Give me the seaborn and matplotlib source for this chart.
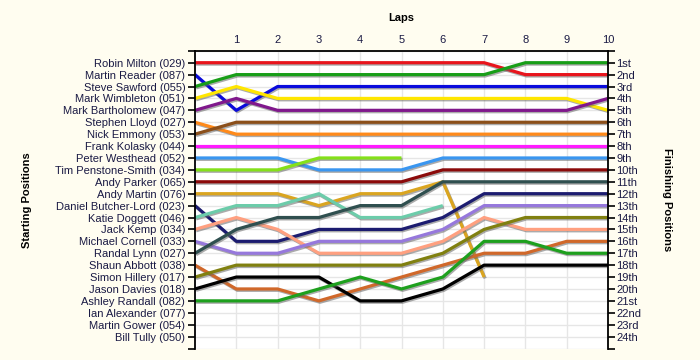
import pandas as pd
import matplotlib.pyplot as plt
import matplotlib.patheffects as pe
import seaborn as sns
import numpy as np

# lap chart data: position of each driver at the end of each lap (lap 0 = grid)
laps = list(range(11))
drivers = ["Robin Milton (029)", "Martin Reader (087)", "Steve Sawford (055)", "Mark Wimbleton (051)",
           "Mark Bartholomew (047)", "Stephen Lloyd (027)", "Nick Emmony (053)", "Frank Kolasky (044)",
           "Peter Westhead (052)", "Tim Penstone-Smith (034)", "Andy Parker (065)", "Andy Martin (076)",
           "Daniel Butcher-Lord (023)", "Katie Doggett (046)", "Jack Kemp (034)", "Michael Cornell (033)",
           "Randal Lynn (027)", "Shaun Abbott (038)", "Simon Hillery (017)", "Jason Davies (018)",
           "Ashley Randall (082)", "Ian Alexander (077)", "Martin Gower (054)", "Bill Tully (050)"]
finish_labels = ["1st", "2nd", "3rd", "4th", "5th", "6th", "7th", "8th", "9th", "10th", "11th", "12th",
                 "13th", "14th", "15th", "16th", "17th", "18th", "19th", "20th", "21st", "22nd", "23rd", "24th"]

milton = [1, 1, 1, 1, 1, 1, 1, 1, 2, 2, 2]
reader = [2, 5, 3, 3, 3, 3, 3, 3, 3, 3, 3]
sawford = [3, 2, 2, 2, 2, 2, 2, 2, 1, 1, 1]
wimbleton = [4, 3, 4, 4, 4, 4, 4, 4, 4, 4, 5]
bartholomew = [5, 4, 5, 5, 5, 5, 5, 5, 5, 5, 4]
lloyd = [6, 7, 7, 7, 7, 7, 7, 7, 7, 7, 7]
emmony = [7, 6, 6, 6, 6, 6, 6, 6, 6, 6, 6]
kolasky = [8, 8, 8, 8, 8, 8, 8, 8, 8, 8, 8]
westhead = [9, 9, 9, 10, 10, 10, 9, 9, 9, 9, 9]
penstone = [10, 10, 10, 9, 9, 9, None, None, None, None, None]
parker = [11, 11, 11, 11, 11, 11, 10, 10, 10, 10, 10]
martin = [12, 12, 12, 13, 12, 12, 11, 19, None, None, None]
butcher = [13, 16, 16, 15, 15, 15, 14, 12, 12, 12, 12]
doggett = [14, 13, 13, 12, 14, 14, 13, None, None, None, None]
kemp = [15, 14, 15, 17, 17, 17, 16, 14, 15, 15, 15]
cornell = [16, 17, 17, 16, 16, 16, 15, 13, 13, 13, 13]
lynn = [17, 15, 14, 14, 13, 13, 11, 11, 11, 11, 11]
abbott = [18, 20, 20, 21, 20, 19, 18, 17, 17, 16, 16]
hillery = [19, 18, 18, 18, 18, 18, 17, 15, 14, 14, 14]
davies = [20, 19, 19, 19, 21, 21, 20, 18, 18, 18, 18]
randall = [21, 21, 21, 20, 19, 20, 19, 16, 16, 17, 17]

positions = [milton, reader, sawford, wimbleton, bartholomew, lloyd, emmony, kolasky, westhead,
             penstone, parker, martin, butcher, doggett, kemp, cornell, lynn, abbott, hillery,
             davies, randall]
colours = ["#E8141C", "#0A0ADC", "#189E18", "#FFE600", "#80188C", "#FF8A1A", "#8B4F1A", "#FF1AFF",
           "#3A96F0", "#84E01A", "#8B0A0A", "#DAA520", "#1C1C70", "#6CCCAA", "#FFA080", "#9678DC",
           "#2F4F4F", "#D0682A", "#808010", "#000000", "#1EA01E"]

rows = []
for name, pos in zip(drivers, positions):
    for lap, p in zip(laps, pos):
        if p is not None:
            rows.append((name, lap, p))
df = pd.DataFrame(rows, columns=["driver", "lap", "pos"])

sns.set_style("white")
plt.rcParams['font.family'] = ['Liberation Sans', 'DejaVu Sans']
bg = "#FFFDF0"
txt = "#1a1a44"

fig = plt.figure(figsize=(7, 3.6), dpi=100, facecolor=bg)
ax = fig.add_axes([195/700, 1-348.5/360, 413/700, 297.7/360])
ax.set_facecolor("white")

sns.lineplot(data=df, x="lap", y="pos", hue="driver", hue_order=drivers[:len(positions)],
             palette=dict(zip(drivers, colours)), estimator=None, sort=False, lw=2.3,
             legend=False, ax=ax)
for ln in ax.lines:
    ln.set_solid_capstyle("butt")
    ln.set_path_effects([pe.SimpleLineShadow(offset=(0.8, -1.0), shadow_color="#666666", alpha=0.55),
                         pe.Normal()])

ax.set_xlim(0, 10)
ax.set_ylim(25, 0)
ax.set_xticks(laps[1:])
ax.xaxis.tick_top()
ax.xaxis.set_label_position("top")
ax.set_xlabel("Laps", fontweight="bold", fontsize=8, labelpad=10, color="black")
ax.tick_params(axis="x", length=0, labelsize=8, labelcolor=txt, pad=4)
ax.set_yticks(range(26))
ax.set_yticklabels([""] + drivers + [""])
ax.tick_params(axis="y", direction="out", length=5, width=1.2, labelsize=8, labelcolor=txt, pad=2,
               left=True, color="black")
ax.set_ylabel("Starting Positions", fontweight="bold", fontsize=8, color="black", labelpad=17)
ax.grid(True, color="#E6E6E6", lw=1)
ax.set_axisbelow(True)
for s in ["top", "left", "right"]:
    ax.spines[s].set_color("black")
    ax.spines[s].set_linewidth(1.3)
ax.spines["bottom"].set_visible(False)

ax2 = ax.twinx()
ax2.set_ylim(25, 0)
ax2.set_yticks(range(26))
ax2.set_yticklabels([""] + finish_labels + [""])
ax2.tick_params(axis="y", direction="out", length=5, width=1.2, labelsize=8, labelcolor=txt, pad=1,
                right=True, color="black")
ax2.set_ylabel("Finishing Positions", fontweight="bold", fontsize=8, color="black", rotation=270,
               labelpad=22)
for s in ["top", "left", "right", "bottom"]:
    ax2.spines[s].set_visible(False)
ax2.grid(False)

fig.savefig("out.png", dpi=100, facecolor=bg)
